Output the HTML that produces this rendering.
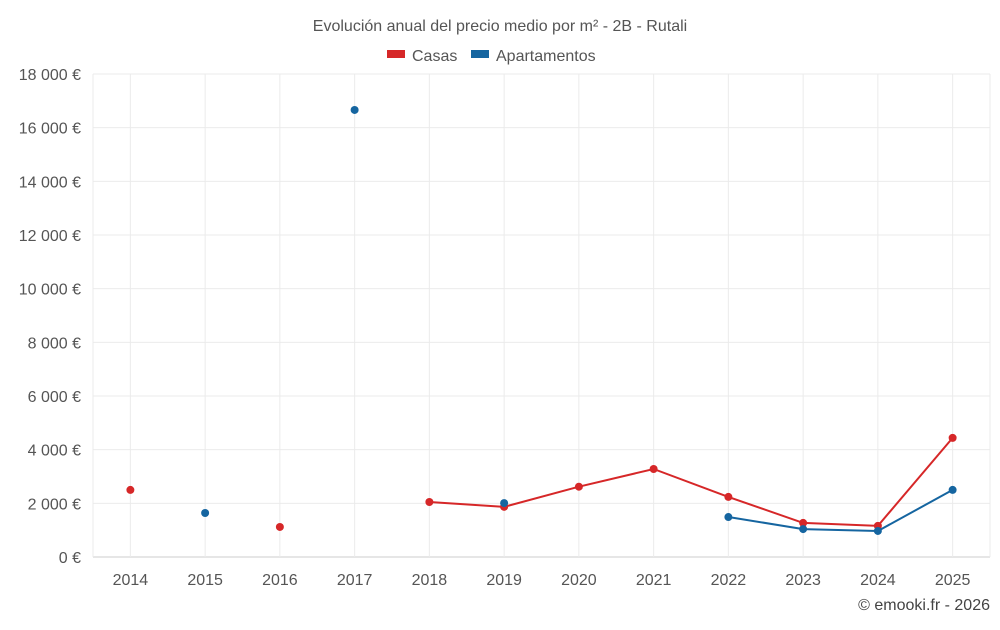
<!DOCTYPE html>
<html><head><meta charset="utf-8"><style>
body{margin:0;background:#fff;font-family:"Liberation Sans",sans-serif}
svg text{font-family:"Liberation Sans",sans-serif}
</style></head><body>
<svg id="c" width="1000" height="625">
<text x="500" y="31" text-anchor="middle" font-size="16" fill="#555">Evolución anual del precio medio por m² - 2B - Rutali</text>
<g>
<rect x="387" y="50" width="18" height="8" fill="#d62728"/>
<text x="412" y="61" font-size="16" fill="#555">Casas</text>
<rect x="471" y="50" width="18" height="8" fill="#1565a0"/>
<text x="496" y="61" font-size="16" fill="#555">Apartamentos</text>
</g>
<g id="grid"></g><g id="marks"></g>
<text x="990" y="610" text-anchor="end" font-size="16" fill="#444">© emooki.fr - 2026</text>
</svg>
<script>
const categories=[2014,2015,2016,2017,2018,2019,2020,2021,2022,2023,2024,2025];
const casas=[2500,null,1120,null,2050,1870,2620,3280,2240,1270,1160,4440];
const apartamentos=[null,1640,null,16660,null,2010,null,null,1490,1040,970,2500];
const yTicks=[0,2000,4000,6000,8000,10000,12000,14000,16000,18000];
const L=93,R=990,T=74,B=557,yMax=18000;
const step=(R-L)/categories.length;
const x=i=>L+step*(i+0.5);
const y=v=>B-(v/yMax)*(B-T);
const NS="http://www.w3.org/2000/svg";
const g=document.getElementById('grid'),m=document.getElementById('marks');
function mk(p,tag,a){const e=document.createElementNS(NS,tag);for(const k in a)e.setAttribute(k,a[k]);p.appendChild(e);return e;}
yTicks.forEach(t=>{
const l=mk(g,'line',{x1:L,x2:R,y1:y(t),y2:y(t),stroke:t?'#ebebeb':'#ccc'});


const tx=mk(g,'text',{x:81,y:y(t)+6,'text-anchor':'end','font-size':16,fill:'#555'});
tx.textContent=t.toLocaleString('fr-FR').replace(/\s/g,' ')+' €';


});
categories.forEach((c,i)=>{
const l=mk(g,'line',{x1:x(i),x2:x(i),y1:T,y2:B,stroke:'#ebebeb'});


const tx=mk(g,'text',{x:x(i),y:585,'text-anchor':'middle','font-size':16,fill:'#555'});
tx.textContent=c;


});
mk(g,'line',{x1:L,x2:L,y1:T,y2:B,stroke:'#ebebeb'});
mk(g,'line',{x1:R,x2:R,y1:T,y2:B,stroke:'#ebebeb'});
function series(data,color,name){
let d='',pen=false;
data.forEach((v,i)=>{if(v==null){pen=false;return;}d+=(pen?'L':'M')+x(i)+' '+y(v)+' ';pen=true;});
const p=mk(m,'path',{d:d,fill:'none',stroke:color,'stroke-width':2});


data.forEach((v,i)=>{if(v==null)return;
const c=mk(m,'circle',{cx:x(i),cy:y(v),r:4,fill:color});

});
}
series(casas,'#d62728','casas');
series(apartamentos,'#1565a0','apartamentos');
</script>
</body></html>
